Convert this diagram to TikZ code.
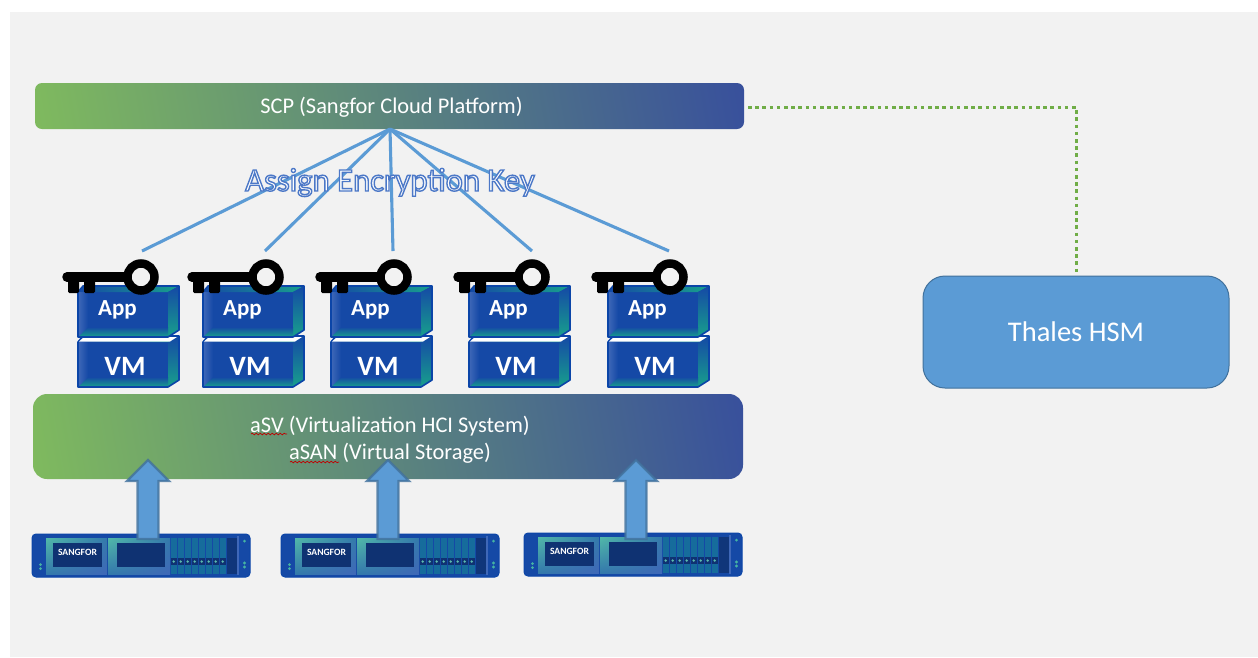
\documentclass[tikz,border=0pt]{standalone}
\usepackage{fontspec}
\setmainfont{Carlito}
\usetikzlibrary{decorations.pathmorphing,shadings}
\definecolor{barGreen}{HTML}{7FBA5E}
\definecolor{barBlue}{HTML}{38509C}
\definecolor{hsmBlue}{HTML}{5B9BD5}
\definecolor{hsmEdge}{HTML}{41719C}
\definecolor{dotGreen}{HTML}{70AD47}
\definecolor{blockBlue}{HTML}{1549A6}
\definecolor{blockEdge}{HTML}{0B45A8}
\definecolor{blockTeal}{HTML}{17A08C}
\definecolor{blockLight}{HTML}{3F68B8}
\definecolor{darkPanel}{HTML}{0F3272}
\definecolor{bgGrey}{HTML}{F2F2F2}
\pgfdeclarehorizontalshading{barshade}{100bp}{color(0bp)=(barGreen); color(21bp)=(barGreen); color(79bp)=(barBlue); color(100bp)=(barBlue)}
\tikzset{
  bar/.style 2 args={rounded corners=#1, shade, shading=barshade, shading angle=#2},
  barlabel/.style={text=white, font=\fontsize{22.4}{27}\selectfont, align=center},
  keyline/.style={draw=hsmBlue, line width=3.1pt},
  uparrow/.style={fill=hsmBlue, draw=hsmEdge, draw opacity=.8, line width=2.4pt, line join=miter},
  squiggle/.style={draw=red!75!black, line width=.7pt, decorate, decoration={snake, amplitude=.8pt, segment length=4pt}},
}
\newcommand{\vmblock}[6]{% name, x, y(top), text x, text y, text+size
  \begin{scope}[shift={(#2,#3)}]
    \fill[blockBlue] (0,6) -- (5,0) -- (101,0) -- (101,44) -- (90,51) -- (0,51) -- cycle;
    \shade[left color=blockBlue, right color=blockTeal] (0,6) -- (5,0) -- (101,0) -- (90,6) -- cycle;
    \shade[bottom color=blockTeal, top color=blockBlue] (90,6) -- (101,0) -- (101,44) -- (90,51) -- cycle;
    \shade[bottom color=blockTeal, top color=blockBlue] (0,41) -- (90,41) -- (90,51) -- (0,51) -- cycle;
    \shade[left color=blockLight, right color=blockBlue] (0,6) -- (10,6) -- (10,41) -- (0,51) -- cycle;
    \draw[blockEdge, line width=1.6pt, line join=round] (0,6) -- (5,0) -- (101,0) -- (101,44) -- (90,51) -- (0,51) -- cycle;
    \node[text=white, inner sep=0pt] (#1) at (#4,#5) {#6};
  \end{scope}}
\newcommand{\whitestrip}[2]{%
  \fill[white] (#1+1,#2+5.5) -- (#1+6,#2+1) -- (#1+99,#2+1) -- (#1+92,#2+5.5) -- cycle;}
\newcommand{\keyshape}[1]{% ring centre x
  \begin{scope}[shift={(#1,277)}]
    \draw[black, line width=9.5pt, line cap=round] (-74,0) -- (-10,0);
    \fill[black, rounded corners=1.5pt] (-73,0) rectangle (-62,16);
    \fill[black, rounded corners=1.5pt] (-57,0) rectangle (-46,16);
    \draw[black, line width=8.5pt, fill=bgGrey] (0,0) circle (13.5);
  \end{scope}}
\newcommand{\serverbox}[3]{% name, x, y
  \begin{scope}[shift={(#2,#3)}]
    \draw[blockEdge, fill=blockBlue, line width=1pt, rounded corners=4pt] (0,0) rectangle (218,43) ;
    \shade[upper left=blockTeal!75!white, lower right=blockLight, upper right=blockLight!70!blockTeal, lower left=blockLight!70!blockTeal] (14,4) rectangle (75,40);
    \shade[upper left=blockTeal!75!white, lower right=blockLight, upper right=blockLight!70!blockTeal, lower left=blockLight!70!blockTeal] (76,4) rectangle (138,40);
    \fill[darkPanel] (21,9) rectangle (70,33);
    \fill[darkPanel] (85,9) rectangle (133,33);
    \node[text=white, font=\fontsize{9.6}{10}\bfseries\selectfont, inner sep=0pt] (#1) at (45.5,18.5) {SANGFOR};
    \foreach \i in {0,...,7} {
      \fill[blockTeal!40!blockBlue] (139+\i*7,4) rectangle (144.5+\i*7,40);
      \fill[darkPanel] (139+\i*7,24) rectangle (144.5+\i*7,31);
      \fill[blockTeal!70!white] (141.7+\i*7,27.5) circle (1.3);
    }
    \fill[darkPanel!85!blockBlue] (195,4) rectangle (205,40);
    \fill[blockLight] (205,2) rectangle (206.5,41);
    \fill[blockTeal!80!white] (212.5,7) circle (1.5);
    \fill[blockTeal!80!white] (212.5,29) circle (1.6);
    \fill[blockTeal!80!white] (212.5,33) circle (1.6);
    \fill[blockTeal!80!white] (8.5,30.5) circle (1.5);
    \fill[blockTeal!80!white] (8.5,34.5) circle (1.5);
  \end{scope}}
\newcommand{\uparrowshape}[1]{%
  \draw[uparrow] (#1-10.5,539) -- (#1-10.5,481) -- (#1-21,481) -- (#1,460) -- (#1+21,481) -- (#1+10.5,481) -- (#1+10.5,539) -- cycle;}
\newcommand{\apptext}{\fontsize{23}{23}\bfseries\selectfont App}
\newcommand{\vmtext}{\fontsize{28}{28}\bfseries\selectfont VM}
\begin{document}
\begin{tikzpicture}[x=1pt,y=-1pt]
  \useasboundingbox (0,0) rectangle (1258,657);
  \fill[white] (0,0) rectangle (1258,657);
  \fill[bgGrey] (10,12) rectangle (1258,657);

  % top bar
  \path[bar={7pt}{10}] (35,83) rectangle (744,129);
  \node[barlabel] (scp) at (391.5,107.5) {SCP (Sangfor Cloud Platform)};
  \coordinate (scpfoot) at (390,129);

  % HSM
  \node[draw=hsmEdge, fill=hsmBlue, line width=1pt, rounded corners=22pt, minimum width=306pt, minimum height=112pt, text=white, font=\fontsize{28.5}{32}\selectfont, inner sep=0pt] (hsm) at (1076,332) {\raisebox{-1.5pt}{Thales HSM}};
  \coordinate (scpright) at (748,107);
  \draw[dotGreen, line width=3pt, dash pattern=on 3.6pt off 3.6pt] (scpright) -| (hsm.north);

  % key lines
  \coordinate (k1) at (142,251);
  \coordinate (k2) at (265,251);
  \coordinate (k3) at (393,251);
  \coordinate (k4) at (532,251);
  \coordinate (k5) at (669,251);
  \foreach \k in {k1,k2,k3,k4,k5} {\draw[keyline] (scpfoot) -- (\k);}

  % assign label
  \node[inner sep=0pt, font=\fontsize{32.7}{36}\selectfont, text=white] (assign) at (390,182.5)
    {\special{pdf:code q 2 Tr 1.4 w 0.30 0.47 0.78 RG 1 1 1 rg}Assign Encryption Key\special{pdf:code Q}};

  % stacks
  \foreach \n/\x in {1/78,2/203,3/331,4/469,5/608} {
    \vmblock{vm\n}{\x}{336}{47}{30.5}{\vmtext}
    \whitestrip{\x}{336}
    \vmblock{app\n}{\x}{286}{39.5}{24}{\apptext}
  }
  \foreach \x in {141,266,394,532,670} {\keyshape{\x}}

  % middle bar
  \path[bar={14pt}{10}] (33,394) rectangle (743,479);
  \node[barlabel] (asv) at (390,439.5) {aSV (Virtualization HCI System)\\aSAN (Virtual Storage)};
  \coordinate (w1a) at (251,434);
  \coordinate (w1b) at (287,434);
  \coordinate (w2a) at (290,462);
  \coordinate (w2b) at (339,462);
  \draw[squiggle] (w1a) -- (w1b);
  \draw[squiggle] (w2a) -- (w2b);

  % servers and arrows
  \serverbox{s1}{32}{534}
  \serverbox{s2}{281}{534}
  \serverbox{s3}{524}{533}
  \foreach \x in {148,388,636} {\uparrowshape{\x}}
\end{tikzpicture}
\end{document}
